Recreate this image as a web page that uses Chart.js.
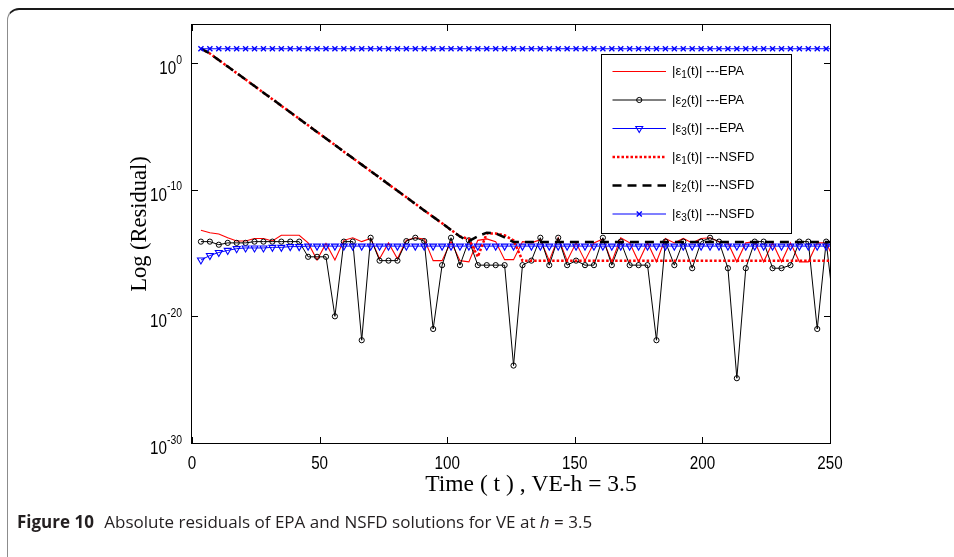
<!DOCTYPE html>
<html>
<head>
<meta charset="utf-8">
<title>Residuals VE h=3.5</title>
<script src="https://cdn.jsdelivr.net/npm/chart.js@4.4.0/dist/chart.umd.min.js"></script>
<style>
  html, body { margin: 0; padding: 0; background: #fff; }
  #wrap { position: relative; width: 954px; height: 557px; overflow: hidden; }
  #frame {
    position: absolute; left: 7px; top: 8px; width: 1000px; height: 600px;
    border-top: 2px solid #1a1a1a; border-left: 1.5px solid #8c8c8c;
    border-top-left-radius: 12px;
  }
  #chart { position: absolute; left: 0; top: 0; }
  #caption {
    position: absolute; left: 17px; top: 510px; white-space: nowrap;
    font-family: 'Open Sans', 'Noto Sans', sans-serif; font-size: 17px; color: #231f20;
  }
  #caption b { font-weight: 700; margin-right: 6px; }
</style>
</head>
<body>
<div id="wrap">
  <div id="frame"></div>
  <canvas id="chart" width="954" height="557"></canvas>
  <div id="caption"><b>Figure 10</b> Absolute residuals of EPA and NSFD solutions for VE at <i>h</i> = 3.5</div>
</div>
<script>
// time grid, step h = 3.5
const tGrid = [
  3.5, 7, 10.5, 14, 17.5, 21, 24.5, 28, 31.5, 35,
  38.5, 42, 45.5, 49, 52.5, 56, 59.5, 63, 66.5, 70,
  73.5, 77, 80.5, 84, 87.5, 91, 94.5, 98, 101.5, 105,
  108.5, 112, 115.5, 119, 122.5, 126, 129.5, 133, 136.5, 140,
  143.5, 147, 150.5, 154, 157.5, 161, 164.5, 168, 171.5, 175,
  178.5, 182, 185.5, 189, 192.5, 196, 199.5, 203, 206.5, 210,
  213.5, 217, 220.5, 224, 227.5, 231, 234.5, 238, 241.5, 245,
  248.5, 252
];

// |e1(t)| EPA
const epaE1 = [
  6.3e-14, 4.0e-14, 3.2e-14, 1.6e-14, 8.9e-15, 8.9e-15, 1.4e-14, 1.4e-14, 8.9e-15, 2.5e-14,
  2.5e-14, 2.5e-14, 6.3e-15, 2.8e-16, 5.6e-15, 2.8e-16, 1.0e-14, 1.6e-14, 7.9e-15, 1.4e-14,
  3.5e-16, 6.3e-15, 3.5e-16, 1.0e-14, 1.6e-14, 1.3e-14, 2.5e-16, 2.5e-16, 7.9e-15, 2.5e-16,
  2.0e-16, 1.0e-14, 1.3e-14, 7.9e-15, 3.0e-16, 3.0e-16, 7.9e-15, 6.3e-15, 1.1e-14, 2.5e-16,
  1.6e-14, 2.5e-16, 6.3e-15, 2.5e-16, 6.3e-15, 1.3e-14, 2.0e-16, 1.6e-14, 6.3e-15, 2.0e-16,
  6.3e-15, 2.0e-16, 1.4e-14, 6.3e-15, 1.4e-14, 6.3e-15, 1.4e-14, 1.6e-14, 7.9e-15, 6.3e-15,
  2.0e-16, 6.3e-15, 7.9e-15, 2.0e-16, 6.3e-15, 2.0e-16, 6.3e-15, 2.0e-16, 2.0e-16, 6.3e-15,
  6.3e-15, 2.0e-16
];

// |e2(t)| EPA
const epaE2 = [
  7.9e-15, 7.9e-15, 4.5e-15, 6.3e-15, 6.3e-15, 6.3e-15, 7.9e-15, 7.9e-15, 7.9e-15, 7.9e-15,
  7.9e-15, 7.9e-15, 5.0e-16, 5.0e-16, 5.0e-16, 1.0e-20, 7.9e-15, 7.9e-15, 1.3e-22, 1.6e-14,
  2.5e-16, 2.5e-16, 2.5e-16, 8.7e-15, 1.6e-14, 8.7e-15, 1.0e-21, 1.1e-16, 1.6e-14, 1.1e-16,
  1.0e-14, 1.1e-16, 1.1e-16, 1.1e-16, 1.1e-16, 1.3e-24, 1.1e-16, 2.5e-16, 1.6e-14, 1.1e-16,
  1.6e-14, 1.1e-16, 2.5e-16, 1.1e-16, 1.1e-16, 1.6e-14, 1.1e-16, 7.9e-15, 1.1e-16, 1.1e-16,
  1.1e-16, 1.3e-22, 7.9e-15, 1.1e-16, 7.9e-15, 6.3e-17, 7.9e-15, 1.6e-14, 7.9e-15, 6.3e-17,
  1.3e-25, 6.3e-17, 7.9e-15, 7.9e-15, 6.3e-17, 6.3e-17, 1.1e-16, 7.9e-15, 7.9e-15, 1.0e-21,
  7.9e-15, 6.3e-21
];

// |e3(t)| EPA
const epaE3 = [
  2.8e-16, 6.3e-16, 1.1e-15, 1.6e-15, 2.2e-15, 2.5e-15, 2.5e-15, 2.5e-15, 2.8e-15, 2.8e-15,
  3.2e-15, 3.2e-15, 3.5e-15, 3.5e-15, 3.5e-15, 3.5e-15, 3.5e-15, 3.5e-15, 3.5e-15, 3.5e-15,
  3.5e-15, 3.5e-15, 3.5e-15, 3.5e-15, 3.5e-15, 3.5e-15, 3.5e-15, 3.5e-15, 3.5e-15, 3.5e-15,
  3.5e-15, 3.5e-15, 3.5e-15, 3.5e-15, 3.5e-15, 3.5e-15, 3.5e-15, 3.5e-15, 3.5e-15, 3.5e-15,
  3.5e-15, 3.5e-15, 3.5e-15, 3.5e-15, 3.5e-15, 3.5e-15, 3.5e-15, 3.5e-15, 3.5e-15, 3.5e-15,
  3.5e-15, 3.5e-15, 3.5e-15, 3.5e-15, 3.5e-15, 3.5e-15, 3.5e-15, 3.5e-15, 3.5e-15, 3.5e-15,
  3.5e-15, 3.5e-15, 3.5e-15, 3.5e-15, 3.5e-15, 3.5e-15, 3.5e-15, 3.5e-15, 3.5e-15, 3.5e-15,
  3.5e-15, 3.5e-15
];

// |e1(t)| NSFD
const nsfdE1 = [
  13.5, 5.6, 1.7, 5.2e-1, 1.6e-1, 4.9e-2, 1.5e-2, 4.5e-3, 1.4e-3, 4.2e-4,
  1.3e-4, 3.9e-5, 1.2e-5, 3.6e-6, 1.1e-6, 3.4e-7, 1.0e-7, 3.1e-8, 9.5e-9, 2.9e-9,
  8.8e-10, 2.7e-10, 8.2e-11, 2.5e-11, 7.6e-12, 2.3e-12, 7.1e-13, 2.2e-13, 6.6e-14, 2.0e-14,
  1.3e-14, 5.0e-16, 3.5e-14, 3.5e-14, 2.5e-14, 1.0e-14, 2.5e-16, 2.5e-16, 2.5e-16, 2.5e-16,
  2.5e-16, 2.5e-16, 2.5e-16, 2.5e-16, 2.5e-16, 2.5e-16, 2.5e-16, 2.5e-16, 2.5e-16, 2.5e-16,
  2.5e-16, 2.5e-16, 2.5e-16, 2.5e-16, 2.5e-16, 2.5e-16, 2.5e-16, 2.5e-16, 2.5e-16, 2.5e-16,
  2.5e-16, 2.5e-16, 2.5e-16, 2.5e-16, 2.5e-16, 2.5e-16, 2.5e-16, 2.5e-16, 2.5e-16, 2.5e-16,
  2.5e-16, 2.5e-16
];

// |e2(t)| NSFD
const nsfdE2 = [
  13.5, 5.6, 1.7, 5.2e-1, 1.6e-1, 4.9e-2, 1.5e-2, 4.5e-3, 1.4e-3, 4.2e-4,
  1.3e-4, 3.9e-5, 1.2e-5, 3.6e-6, 1.1e-6, 3.4e-7, 1.0e-7, 3.1e-8, 9.5e-9, 2.9e-9,
  8.8e-10, 2.7e-10, 8.2e-11, 2.5e-11, 7.6e-12, 2.3e-12, 7.1e-13, 2.2e-13, 6.6e-14, 2.0e-14,
  8.7e-15, 2.1e-14, 4.0e-14, 3.5e-14, 1.7e-14, 7.4e-15, 7.4e-15, 7.4e-15, 7.4e-15, 7.4e-15,
  7.4e-15, 7.4e-15, 7.4e-15, 7.4e-15, 7.4e-15, 7.4e-15, 7.4e-15, 7.4e-15, 7.4e-15, 7.4e-15,
  7.4e-15, 7.4e-15, 7.4e-15, 7.4e-15, 7.4e-15, 7.4e-15, 7.4e-15, 7.4e-15, 7.4e-15, 7.4e-15,
  7.4e-15, 7.4e-15, 7.4e-15, 7.4e-15, 7.4e-15, 7.4e-15, 7.4e-15, 7.4e-15, 7.4e-15, 7.4e-15,
  7.4e-15, 7.4e-15
];

// |e3(t)| NSFD
const nsfdE3 = [
  13.5, 13.5, 13.5, 13.5, 13.5, 13.5, 13.5, 13.5, 13.5, 13.5,
  13.5, 13.5, 13.5, 13.5, 13.5, 13.5, 13.5, 13.5, 13.5, 13.5,
  13.5, 13.5, 13.5, 13.5, 13.5, 13.5, 13.5, 13.5, 13.5, 13.5,
  13.5, 13.5, 13.5, 13.5, 13.5, 13.5, 13.5, 13.5, 13.5, 13.5,
  13.5, 13.5, 13.5, 13.5, 13.5, 13.5, 13.5, 13.5, 13.5, 13.5,
  13.5, 13.5, 13.5, 13.5, 13.5, 13.5, 13.5, 13.5, 13.5, 13.5,
  13.5, 13.5, 13.5, 13.5, 13.5, 13.5, 13.5, 13.5, 13.5, 13.5,
  13.5, 13.5
];

const xTicks = [0, 50, 100, 150, 200, 250];
const yTickExps = [0, -10, -20, -30];
const legendLabels = [
  { sub: '1', method: 'EPA' },
  { sub: '2', method: 'EPA' },
  { sub: '3', method: 'EPA' },
  { sub: '1', method: 'NSFD' },
  { sub: '2', method: 'NSFD' },
  { sub: '3', method: 'NSFD' }
];

const RED = '#ff0000', BLUE = '#0000ff', BLACK = '#000000';
const SANS = "'Liberation Sans', Arial, sans-serif";
const SERIF = "'Liberation Serif', 'Times New Roman', serif";
const NARROW = 0.8; // squeeze for the tick numbers

const pts = vals => tGrid.map((t, i) => ({ x: t, y: vals[i] }));

const seriesStyles = [
  { data: epaE1, borderColor: RED, borderWidth: 1.1, pointRadius: 0, order: 6 },
  { data: epaE2, borderColor: BLACK, borderWidth: 1, pointStyle: 'circle', pointRadius: 2.6,
    pointBorderColor: BLACK, pointBackgroundColor: 'rgba(0,0,0,0)', pointBorderWidth: 1, order: 5 },
  { data: epaE3, borderColor: BLUE, borderWidth: 1, pointStyle: 'triangle', pointRotation: 180,
    pointRadius: 4, pointBorderColor: BLUE, pointBackgroundColor: 'rgba(0,0,0,0)', pointBorderWidth: 1.1, order: 4 },
  { data: nsfdE1, borderColor: RED, borderWidth: 2.5, borderDash: [2.5, 2], pointRadius: 0, order: 3 },
  { data: nsfdE2, borderColor: BLACK, borderWidth: 2.5, borderDash: [9, 6], pointRadius: 0, order: 2 },
  { data: nsfdE3, borderColor: BLUE, borderWidth: 1.1, pointStyle: 'crossRot', pointRadius: 3.6,
    pointBorderColor: BLUE, pointBorderWidth: 1.4, order: 1 }
];

const datasets = seriesStyles.map(s => Object.assign({}, s, {
  data: pts(s.data), fill: false, tension: 0, clip: 0
}));

// sample line + marker for a legend row, reusing the dataset style
function drawSample(ctx, ds, x0, x1, y) {
  ctx.save();
  ctx.strokeStyle = ds.borderColor;
  ctx.lineWidth = ds.borderWidth;
  ctx.setLineDash(ds.borderDash || []);
  ctx.beginPath();
  ctx.moveTo(x0, y); ctx.lineTo(x1, y);
  ctx.stroke();
  ctx.setLineDash([]);
  if (ds.pointRadius > 0) {
    ctx.strokeStyle = ds.pointBorderColor;
    ctx.fillStyle = 'rgba(0,0,0,0)';
    ctx.lineWidth = ds.pointBorderWidth;
    Chart.helpers.drawPoint(ctx, {
      pointStyle: ds.pointStyle, rotation: ds.pointRotation || 0,
      radius: ds.pointRadius, borderWidth: ds.pointBorderWidth
    }, (x0 + x1) / 2, y);
  }
  ctx.restore();
}

// narrow numeric text: draw squeezed horizontally around anchor x
function narrowText(ctx, str, x, y, align) {
  ctx.save();
  ctx.translate(x, y);
  ctx.scale(NARROW, 1);
  ctx.textAlign = align;
  ctx.fillText(str, 0, 0);
  ctx.restore();
}

const matlabAxes = {
  id: 'matlabAxes',
  afterDraw(chart) {
    const { ctx, chartArea: a, scales } = chart;
    const xs = scales.x, ys = scales.y;
    const L = a.left - 0.5, R = a.right + 0.5, T = a.top - 0.5, B = a.bottom + 0.5;
    const tick = 6.5;
    ctx.save();
    ctx.strokeStyle = '#000';
    ctx.lineWidth = 1;
    ctx.strokeRect(L, T, R - L, B - T);

    // x ticks: inward on bottom and top
    ctx.beginPath();
    xTicks.forEach(v => {
      const px = Math.round(xs.getPixelForValue(v)) + 0.5;
      ctx.moveTo(px, B); ctx.lineTo(px, B - tick);
      ctx.moveTo(px, T); ctx.lineTo(px, T + tick);
    });
    // y ticks: inward on left and right
    yTickExps.forEach(e => {
      const py = Math.round(ys.getPixelForValue(Math.pow(10, e))) + 0.5;
      ctx.moveTo(L, py); ctx.lineTo(L + tick, py);
      ctx.moveTo(R, py); ctx.lineTo(R - tick, py);
    });
    ctx.stroke();

    ctx.fillStyle = '#000';
    // x tick labels
    ctx.font = '19px ' + SANS;
    ctx.textBaseline = 'middle';
    xTicks.forEach(v => narrowText(ctx, String(v), xs.getPixelForValue(v), 464, 'center'));

    // y tick labels as 10^n
    ctx.textBaseline = 'alphabetic';
    yTickExps.forEach(e => {
      const py = ys.getPixelForValue(Math.pow(10, e));
      const sup = String(e);
      ctx.font = '13px ' + SANS;
      const sw = ctx.measureText(sup).width * NARROW;
      const right = 182;
      narrowText(ctx, sup, right, py + 0.5, 'right');
      ctx.font = '19px ' + SANS;
      narrowText(ctx, '10', right - sw, py + 11, 'right');
    });

    // axis titles
    ctx.font = '23.5px ' + SERIF;
    ctx.textAlign = 'center';
    ctx.fillText('Time ( t ) , VE-h = 3.5', 531, 491);
    ctx.save();
    ctx.translate(140, 224);
    ctx.rotate(-Math.PI / 2);
    ctx.textBaseline = 'middle';
    ctx.font = '22.5px ' + SERIF;
    ctx.fillText('Log (Residual)', 0, 0);
    ctx.restore();

    // legend box
    const bx = 601.5, by = 54.5, bw = 190, bh = 179;
    ctx.fillStyle = '#fff';
    ctx.fillRect(bx, by, bw, bh);
    ctx.strokeStyle = '#000';
    ctx.lineWidth = 1;
    ctx.strokeRect(bx, by, bw, bh);
    legendLabels.forEach((lab, i) => {
      const ry = 71.5 + i * 28.5;
      drawSample(ctx, seriesStyles[i], 612.5, 666, ry);
      ctx.fillStyle = '#000';
      ctx.textAlign = 'left';
      ctx.textBaseline = 'middle';
      let x = 672;
      ctx.font = '13px ' + SANS;
      ctx.fillText('|ε', x, ry);
      x += ctx.measureText('|ε').width;
      ctx.font = '10px ' + SANS;
      ctx.fillText(lab.sub, x, ry + 4);
      x += ctx.measureText(lab.sub).width;
      ctx.font = '13px ' + SANS;
      ctx.fillText('(t)| ---' + lab.method, x, ry);
    });
    ctx.restore();
  }
};

new Chart(document.getElementById('chart'), {
  type: 'line',
  data: { datasets },
  options: {
    responsive: false,
    animation: false,
    events: [],
    layout: { padding: { left: 192, top: 25, right: 124, bottom: 114 } },
    plugins: { legend: { display: false }, tooltip: { enabled: false } },
    scales: {
      x: { type: 'linear', min: 0, max: 250, display: false },
      y: { type: 'logarithmic', min: 1e-30, max: 1e3, display: false }
    }
  },
  plugins: [matlabAxes]
});
</script>
</body>
</html>
